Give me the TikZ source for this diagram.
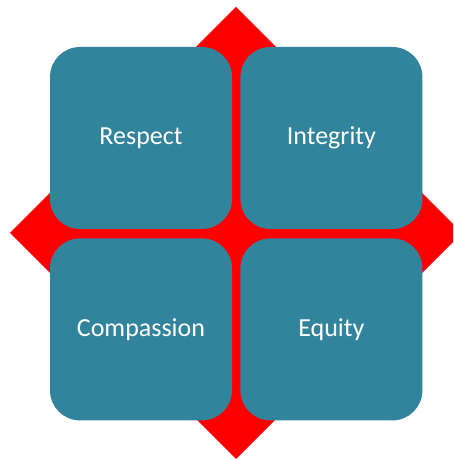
\documentclass[tikz,border=0pt]{standalone}
\usepackage{fontspec}
\setmainfont{Carlito}
\usepackage{xcolor}
\usepackage{tikz}
\usetikzlibrary{positioning}
\definecolor{tealbox}{HTML}{31849B}
\tikzstyle{value} = [rectangle, rounded corners=30pt, minimum width=182pt, minimum height=182pt, text centered, fill=tealbox, text=white, font=\fontsize{26}{30}\selectfont]

\begin{document}
\begin{tikzpicture}[x=1pt, y=1pt, node distance=8.5pt]
        \useasboundingbox (0,0) rectangle (453,460);
        \clip (0,0) rectangle (453,460);
        % red diamond behind the boxes
        \fill[red] (236,453) -- (462,227) -- (236,1) -- (10,227) -- cycle;
        \node (respect) [value] at (141,322) {Respect};
        \node (integrity) [value, right=8pt of respect] {Integrity};
        \node (compassion) [value, below=9pt of respect] {Compassion};
        \node (equity) [value, below=9pt of integrity] {Equity};
    \end{tikzpicture}
\end{document}
